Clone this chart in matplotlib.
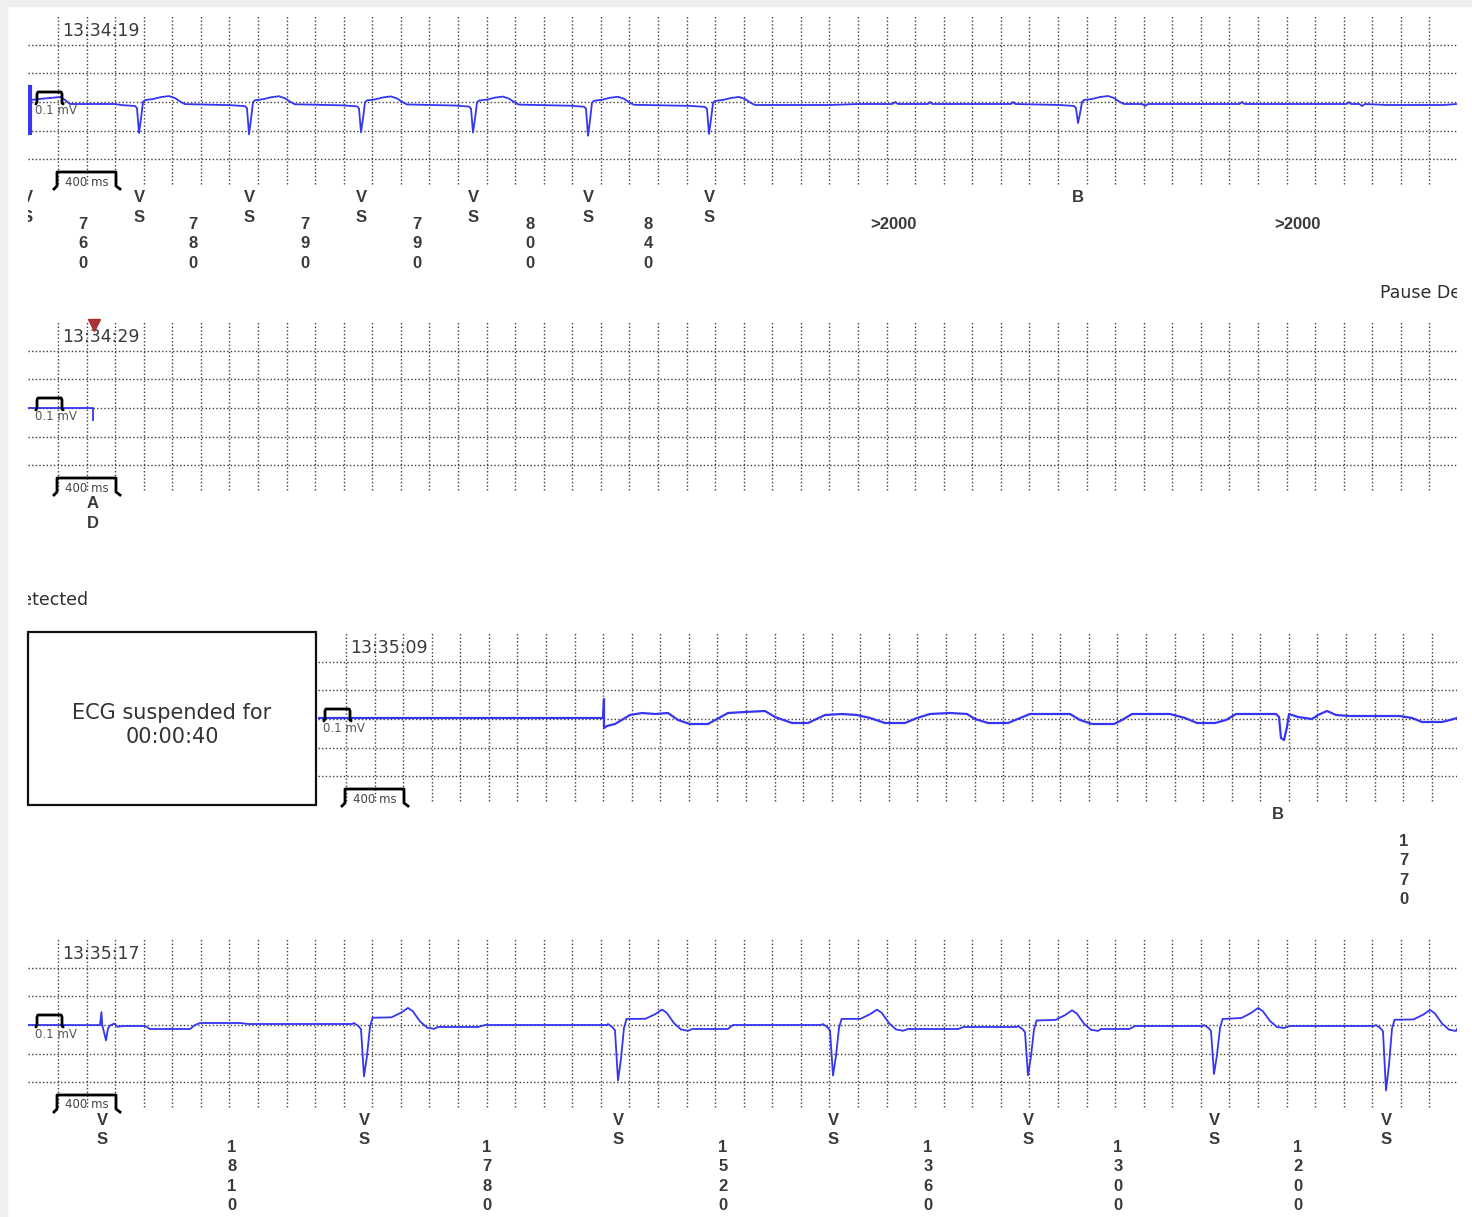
import numpy as np
import matplotlib
matplotlib.use("Agg")
import matplotlib.pyplot as plt
from matplotlib.patches import Rectangle

# figure size in px
W, H = 1472, 1217
MS_PER_PX = 7.0      # 200 ms grid = 28.6 px
PX_PER_MV = 100.0    # 0.1 mV calibration = 10 px
GRID_MV = 0.2857

TRACE_C = '#3535f2'
GRID_C = '#3c3c3c'
LAB_C = '#3a3a3a'
LAB_FONT = ['Liberation Sans', 'DejaVu Sans']

# ---------------- strip 1 (13:34:19) ----------------
S1_TIME = '13:34:19'
S1_BASE_T = [-189, -130, -60, 20, 40, 85, 120, 400, 4900, 5400, 5600, 5840, 5859, 5880,
             6090, 6104, 6120, 6670, 6685, 6700, 7590, 7609, 7630, 8270, 8288, 8305,
             9020, 9037, 9050, 9110, 9128, 9150, 9300, 9700, 9793]
S1_BASE_V = [0.02, 0.03, 0.04, 0.05, 0.03, -0.02, -0.02, -0.02, -0.03, -0.03, -0.02, -0.02, 0.0, -0.02,
             -0.02, 0.0, -0.02, -0.02, 0.0, -0.02, -0.02, -0.04, -0.02, -0.02, 0.0, -0.02,
             -0.02, 0.0, -0.02, -0.02, -0.04, -0.02, -0.03, -0.03, -0.02]
S1_BEAT_T = [567, 1337, 2121, 2905, 3710, 4557, 7140]
S1_BEAT_D = [-0.29, -0.30, -0.28, -0.28, -0.31, -0.29, -0.19]
S1_TPL_DT = [-126, -28, -14, 0, 14, 28, 42, 98, 154, 210, 252, 294, 322]
S1_TPL_V = [-0.01, -0.02, -0.04, 0.0, 0.0, 0.02, 0.04, 0.05, 0.07, 0.08, 0.06, 0.02, 0.0]
S1_TPL_Q = [0, 0, 0, 1.0, 0.5, 0, 0, 0, 0, 0, 0, 0, 0]
S1_MARK_T = [-217, 567, 1337, 2121, 2905, 3710, 4557, 7140]
S1_MARK = ['VS', 'VS', 'VS', 'VS', 'VS', 'VS', 'VS', 'B']
S1_INT_T = [175, 945, 1729, 2513, 3307, 4133, 5848, 8673]
S1_INT = ['760', '780', '790', '790', '800', '840', '>2000', '>2000']

# ---------------- strip 2 (13:34:29) ----------------
S2_TIME = '13:34:29'
S2_TRACE_T = [-210, 245, 245]
S2_TRACE_V = [0.0, 0.0, -0.12]
S2_MARK_T = [245]
S2_MARK = ['AD']
S2_EVENT_T = 252

# ---------------- strip 3 (13:35:09) ----------------
S3_TIME = '13:35:09'
S3_TRACE_T = [-196, 1799, 1806, 1806, 1827, 1883, 1988, 2072, 2163, 2254, 2324, 2408, 2534,
              2597, 2674, 2793, 2933, 3003, 3122, 3234, 3353, 3472, 3577, 3668, 3773, 3913,
              3997, 4088, 4228, 4347, 4403, 4494, 4634, 4788, 5068, 5138, 5222, 5376, 5432,
              5502, 5768, 5873, 5957, 6083, 6160, 6230, 6510, 6531, 6545, 6566, 6587, 6601,
              6664, 6762, 6804, 6867, 6930, 7028, 7378, 7462, 7532, 7672, 7728, 7777]
S3_TRACE_V = [0.01, 0.01, 0.20, -0.09, -0.07, -0.05, 0.04, 0.06, 0.05, 0.06, -0.01, -0.05, -0.05,
              0.0, 0.06, 0.07, 0.08, 0.02, -0.04, -0.04, 0.04, 0.05, 0.04, 0.01, -0.04, -0.04,
              0.01, 0.05, 0.06, 0.05, 0.0, -0.04, -0.04, 0.05, 0.05, -0.01, -0.05, -0.05, -0.01,
              0.05, 0.05, 0.01, -0.04, -0.04, -0.01, 0.05, 0.05, 0.02, -0.19, -0.21, -0.08, 0.05,
              0.02, 0.0, 0.04, 0.08, 0.04, 0.03, 0.03, 0.01, -0.03, -0.03, -0.01, 0.01]
S3_MARK_T = [6524]
S3_MARK = ['B']
S3_INT_T = [7406]
S3_INT = ['1770']
SUSPEND_TXT = 'ECG suspended for\n00:00:40'

# ---------------- strip 4 (13:35:17) ----------------
S4_TIME = '13:35:17'
S4_BASE_T = [-210, 280, 450, 609, 644, 924, 959, 994, 1274, 1330, 2060, 2660, 2940, 2990, 3840,
             4440, 4690, 4725, 5340, 5950, 6300, 6340, 6710, 7300, 7500, 7540, 8010, 8620, 9210, 9793]
S4_BASE_V = [0.0, 0.0, -0.01, -0.01, -0.04, -0.04, 0.0, 0.02, 0.02, 0.01, 0.01, -0.02, -0.02, 0.0, 0.0,
             -0.04, -0.04, 0.0, 0.0, -0.04, -0.04, -0.02, -0.02, -0.04, -0.04, -0.01, -0.01, -0.01, -0.01, -0.04]
S4_FIRST_T = 308
S4_SMALL_DT = [-14, -4, 2, 28, 42, 56, 84, 112]
S4_SMALL_V = [0.0, 0.13, 0.0, -0.15, -0.03, 0.0, 0.02, -0.01]
S4_BEAT_T = [2142, 3920, 5425, 6790, 8092, 9296]
S4_BEAT_D = [-0.52, -0.55, -0.50, -0.48, -0.48, -0.64]
S4_TPL_DT = [-70, -38, -21, 0, 21, 42, 60, 120, 192, 259, 308, 341, 392, 441, 490]
S4_TPL_V = [0.01, -0.02, -0.05, 0.0, 0.0, -0.02, 0.07, 0.075, 0.08, 0.13, 0.18, 0.15, 0.05, -0.01, -0.02]
S4_TPL_Q = [0, 0, 0, 1.0, 0.6, 0, 0, 0, 0, 0, 0, 0, 0, 0, 0]
S4_MARK_T = [308, 2142, 3920, 5425, 6790, 8092, 9296]
S4_MARK = ['VS'] * 7
S4_INT_T = [1218, 3003, 4655, 6090, 7420, 8680]
S4_INT = ['1810', '1780', '1520', '1360', '1300', '1200']

PAUSE_TXT = 'Pause Detected'

# calibration pulse and 400 ms bracket (ms, mV relative to strip origin / baseline)
CAL_T = [-155, -147, -147, -141, 22, 28, 28, 36]
CAL_V = [-0.02, 0.0, 0.08, 0.1, 0.1, 0.08, -0.01, -0.02]
BR_T = [-28, -7, -7, 406, 406, 434]
BR_V = [-0.87, -0.84, -0.70, -0.70, -0.84, -0.87]


def build_trace(base_t, base_v, beats):
    wins = [(tb + dt[0], tb + dt[-1]) for tb, d, dt, tv, tq in beats]
    pts = [(t, v) for t, v in zip(base_t, base_v)
           if not any(a <= t <= b for a, b in wins)]
    for tb, d, dt, tv, tq in beats:
        for k in range(len(dt)):
            tt = tb + dt[k]
            pts.append((tt, np.interp(tt, base_t, base_v) + tv[k] + tq[k] * d))
    pts.sort(key=lambda p: p[0])
    return [p[0] for p in pts], [p[1] for p in pts]


fig = plt.figure(figsize=(W / 100, H / 100), dpi=100)
fig.patch.set_facecolor('white')
fig.add_artist(Rectangle((0, 0), 7 / W, 1, transform=fig.transFigure, color='#efefef', zorder=0))
fig.add_artist(Rectangle((0, 1 - 6 / H), 1, 6 / H, transform=fig.transFigure, color='#efefef', zorder=0))


def strip(left, right, top, bot, origin, base, t_last, stamp):
    ax = fig.add_axes([left / W, 1 - bot / H, (right - left) / W, (bot - top) / H])
    ax.set_xlim((left - origin) * MS_PER_PX, (right - origin) * MS_PER_PX)
    ax.set_ylim((base - bot) / PX_PER_MV, (base - top) / PX_PER_MV)
    ax.axis('off')
    ax.vlines(np.arange(0, t_last + 1, 200), -0.82, 0.87, colors=GRID_C,
              linestyles=(0, (1, 1.6)), lw=1.0, zorder=1)
    for k in range(-2, 3):
        ax.axhline(k * GRID_MV, color=GRID_C, ls=(0, (1, 1.6)), lw=1.0, zorder=1)
    ax.plot(CAL_T, CAL_V, color='black', lw=2.0, zorder=4, solid_capstyle='round')
    ax.plot(BR_T, BR_V, color='black', lw=2.0, zorder=4)
    ax.text(-160, -0.09, '0.1 mV', fontsize=8.5, color='#555555', va='center',
            family='DejaVu Sans', zorder=5)
    ax.text(200, -0.80, '400 ms', fontsize=8.5, color='#444444', va='center', ha='center',
            family='DejaVu Sans', zorder=5)
    ax.text(28, 0.71, stamp, fontsize=12.5, color='#3a3a3a', va='center',
            family='DejaVu Sans', zorder=5)
    return ax


def marker_labels(ax, times, labels):
    for t, lab in zip(times, labels):
        for k, ch in enumerate(lab):
            ax.text(t, -0.955 - k * 0.195, ch, ha='center', va='center', fontsize=12,
                    fontweight='bold', color=LAB_C, family=LAB_FONT, clip_on=True)


def interval_labels(ax, times, texts):
    for t, s in zip(times, texts):
        if s.isdigit():
            for k, ch in enumerate(s):
                ax.text(t, -1.225 - k * 0.193, ch, ha='center', va='center', fontsize=12,
                        fontweight='bold', color=LAB_C, family=LAB_FONT, clip_on=True)
        else:
            ax.text(t, -1.225, s, ha='center', va='center', fontsize=12,
                    fontweight='bold', color=LAB_C, family=LAB_FONT, clip_on=True)


# strip 1
ax1 = strip(28, 1457, 8, 306, 58, 102, 9600, S1_TIME)
beats1 = [(t, d, S1_TPL_DT, S1_TPL_V, S1_TPL_Q) for t, d in zip(S1_BEAT_T, S1_BEAT_D)]
tx, vy = build_trace(S1_BASE_T, S1_BASE_V, beats1)
ax1.plot(tx, vy, color=TRACE_C, lw=1.3, zorder=3)
ax1.plot([-196, -196], [0.15, -0.31], color=TRACE_C, lw=3.0, zorder=3)
marker_labels(ax1, S1_MARK_T, S1_MARK)
interval_labels(ax1, S1_INT_T, S1_INT)
ax1.text(9254, -1.91, PAUSE_TXT, fontsize=12.5, color='#2e2e2e', va='center',
         family='DejaVu Sans', clip_on=True)

# strip 2
ax2 = strip(28, 1457, 312, 615, 58, 408, 9600, S2_TIME)
ax2.plot(S2_TRACE_T, S2_TRACE_V, color=TRACE_C, lw=1.3, zorder=3)
ax2.plot([S2_EVENT_T], [0.83], marker='v', ms=8, color='#a83232', zorder=6)
marker_labels(ax2, S2_MARK_T, S2_MARK)
ax2.text(-749, -1.92, PAUSE_TXT, fontsize=12.5, color='#2e2e2e', va='center',
         family='DejaVu Sans', clip_on=True)

# strip 3
ax3 = strip(318, 1457, 620, 915, 346, 719, 7600, S3_TIME)
ax3.plot(S3_TRACE_T, S3_TRACE_V, color=TRACE_C, lw=1.6, zorder=3)
marker_labels(ax3, S3_MARK_T, S3_MARK)
interval_labels(ax3, S3_INT_T, S3_INT)
fig.add_artist(Rectangle((28 / W, 1 - 805 / H), 288 / W, 173 / H, transform=fig.transFigure,
                         facecolor='white', edgecolor='#111111', lw=1.6, zorder=2))
fig.text(172 / W, 1 - 725 / H, SUSPEND_TXT, ha='center', va='center', fontsize=15,
         color='#333333', family='DejaVu Sans', linespacing=1.25)

# strip 4
ax4 = strip(28, 1457, 920, 1217, 58, 1025, 9600, S4_TIME)
beats4 = [(S4_FIRST_T, 0.0, S4_SMALL_DT, S4_SMALL_V, [0] * len(S4_SMALL_DT))]
beats4 += [(t, d, S4_TPL_DT, S4_TPL_V, S4_TPL_Q) for t, d in zip(S4_BEAT_T, S4_BEAT_D)]
tx, vy = build_trace(S4_BASE_T, S4_BASE_V, beats4)
ax4.plot(tx, vy, color=TRACE_C, lw=1.3, zorder=3)
marker_labels(ax4, S4_MARK_T, S4_MARK)
interval_labels(ax4, S4_INT_T, S4_INT)

fig.savefig('out.png', dpi=100)
